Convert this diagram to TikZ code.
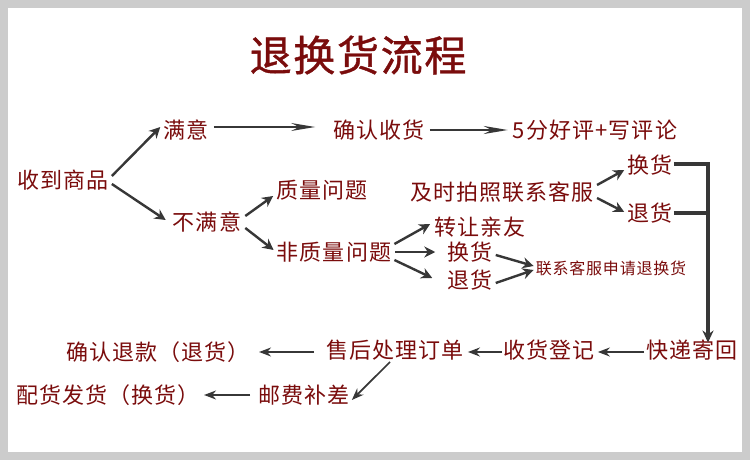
\documentclass[tikz,border=0pt]{standalone}
\usepackage{fontspec}
\newfontfamily\cjk[LetterSpace=5]{Noto Sans CJK SC}
\newfontfamily\cjktitle[LetterSpace=4,FakeBold=1]{Noto Sans CJK SC}
\usetikzlibrary{arrows.meta}
\definecolor{txt}{RGB}{122,12,12}
\definecolor{ln}{RGB}{55,55,55}
\definecolor{framegray}{RGB}{204,204,204}
\begin{document}
\begin{tikzpicture}[x=1pt,y=-1pt,
  lbl/.style={inner sep=0pt, text=txt, font=\cjk\fontsize{22}{24}\selectfont},
  smalllbl/.style={inner sep=0pt, text=txt, font=\cjk\fontsize{16}{18}\selectfont},
  titlelbl/.style={inner sep=0pt, text=txt, font=\cjktitle\fontsize{42}{46}\selectfont},
  longarr/.style={draw=ln, line width=1.6pt, -{Stealth[length=24pt,width=8pt]}},
  diagarr/.style={draw=ln, line width=2.4pt, -{Stealth[length=11pt,width=11pt]}},
  botarr/.style={draw=ln, line width=1.7pt, -{Stealth[length=12pt,width=9pt]}},
  bracketline/.style={draw=ln, line width=3.5pt},
  downarr/.style={draw=ln, line width=3.5pt, -{Stealth[length=12pt,width=11pt]}}]
\fill[framegray] (0,0) rectangle (750,460);
\fill[white] (8,8) rectangle (742,452);
\useasboundingbox (0,0) rectangle (750,460);

\node[titlelbl] (title) at (358,55) {退换货流程};

\node[lbl] (recv) at (63,180) {收到商品};
\node[lbl] (sat) at (186,130) {满意};
\node[lbl] (confirm) at (379,130) {确认收货};
\node[lbl] (review) at (595,130) {5分好评+写评论};
\node[lbl] (unsat) at (207,222) {不满意};
\node[lbl] (qual) at (322,190) {质量问题};
\node[lbl] (nonqual) at (334,252) {非质量问题};
\node[lbl] (photo) at (502,192) {及时拍照联系客服};
\node[lbl] (exA) at (650,165) {换货};
\node[lbl] (retA) at (650,213) {退货};
\node[lbl] (gift) at (480,227) {转让亲友};
\node[lbl] (exB) at (470,252) {换货};
\node[lbl] (retB) at (470,280) {退货};
\node[smalllbl] (apply) at (611,268) {联系客服申请退换货};
\node[lbl] (ship) at (692,350) {快递寄回};
\node[lbl] (reg) at (549,350) {收货登记};
\node[lbl] (proc) at (395,350) {售后处理订单};
\node[lbl] (refund) at (158,352) {确认退款（退货）};
\node[lbl] (post) at (304,395) {邮费补差};
\node[lbl] (deliver) at (108,395) {配货发货（换货）};

% upper branch
\draw[diagarr] ([shift={(3,-4)}]recv.east) -- ([shift={(-3,-3)}]sat.west);
\draw[diagarr] ([shift={(3,4)}]recv.east) -- ([shift={(-7,-2)}]unsat.west);
\draw[longarr] ([shift={(5,-3)}]sat.east) -- ([shift={(-18,-3)}]confirm.west);
\draw[longarr] ([shift={(5,0)}]confirm.east) -- ([shift={(-5,0)}]review.west);

% unsatisfied
\draw[diagarr] ([shift={(4,-6)}]unsat.east) -- ([shift={(-3,6)}]qual.west);
\draw[diagarr] ([shift={(4,6)}]unsat.east) -- ([shift={(-3,-2)}]nonqual.west);

% non-quality
\draw[diagarr] ([shift={(3,-8)}]nonqual.east) -- ([shift={(-4,-3)}]gift.west);
\draw[diagarr] ([shift={(4,0)}]nonqual.east) -- ([shift={(-12,0)}]exB.west);
\draw[diagarr] ([shift={(3,8)}]nonqual.east) -- ([shift={(-15,-2)}]retB.west);
\draw[diagarr] ([shift={(3,3)}]exB.east) -- ([shift={(-2,-2)}]apply.west);
\draw[diagarr] ([shift={(3,3)}]retB.east) -- ([shift={(-2,2)}]apply.west);

% quality
\draw[diagarr] ([shift={(3,-7)}]photo.east) -- ([shift={(-3,5)}]exA.west);
\draw[diagarr] ([shift={(3,6)}]photo.east) -- ([shift={(-3,-1)}]retA.west);

% bracket
\coordinate (btop) at (708,164);
\coordinate (bmid) at (708,213);
\draw[bracketline] ([shift={(1,-1)}]exA.east) -- ([xshift=1.75pt]btop);
\draw[bracketline] ([shift={(1,0)}]retA.east) -- (bmid);
\draw[downarr] ([yshift=-1.75pt]btop) -- ([yshift=-3pt]btop |- ship.north);

% bottom rows
\draw[botarr] ([shift={(-2,2)}]ship.west) -- ([shift={(3,2)}]reg.east);
\draw[botarr] ([shift={(-1,2)}]reg.west) -- ([shift={(4,2)}]proc.east);
\draw[botarr] ([shift={(-12,2)}]proc.west) -- ([shift={(9,0)}]refund.east);
\draw[botarr] ([shift={(-5,12)}]proc.center) -- ([shift={(2,5)}]post.east);
\draw[botarr] ([shift={(-8,0)}]post.west) -- ([shift={(4,0)}]deliver.east);
\end{tikzpicture}
\end{document}
